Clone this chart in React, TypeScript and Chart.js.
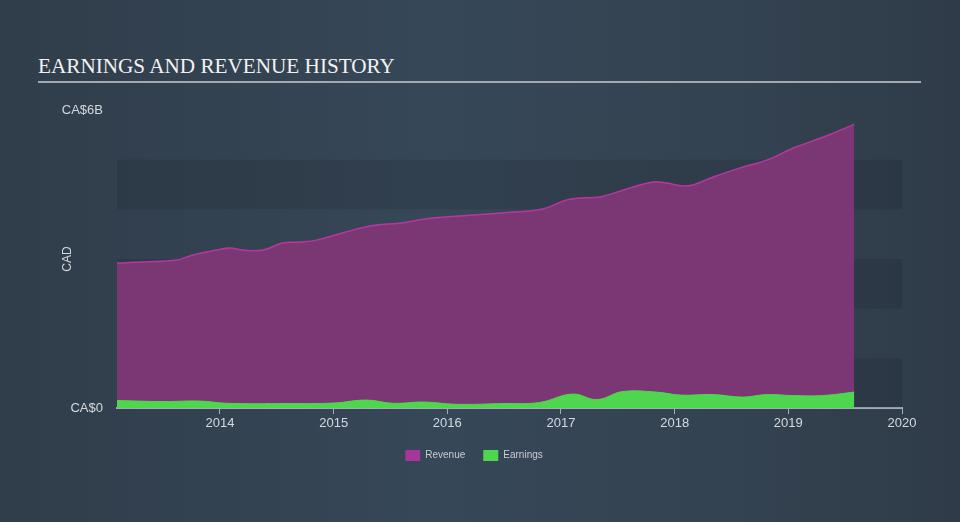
import React, { useEffect, useRef } from "react";
import { Chart, registerables } from "chart.js";

Chart.register(...registerables);

const revenueYears = [2013.094, 2013.32, 2013.62, 2013.76, 2013.97, 2014.09, 2014.2, 2014.38, 2014.55, 2014.7, 2014.85, 2015.1, 2015.36, 2015.58, 2015.85, 2016.2, 2016.55, 2016.83, 2017.05, 2017.17, 2017.34, 2017.58, 2017.81, 2017.93, 2018.07, 2018.16, 2018.34, 2018.57, 2018.81, 2019.04, 2019.28, 2019.39, 2019.58];
const revenueValues = [2.92, 2.94, 2.98, 3.08, 3.18, 3.22, 3.18, 3.18, 3.32, 3.34, 3.38, 3.54, 3.68, 3.72, 3.82, 3.88, 3.94, 4.0, 4.19, 4.23, 4.25, 4.41, 4.55, 4.53, 4.47, 4.49, 4.65, 4.83, 4.99, 5.23, 5.43, 5.53, 5.71];

const earningsYears = [2013.094, 2013.5, 2013.82, 2014.06, 2014.6, 2015.0, 2015.29, 2015.52, 2015.79, 2016.08, 2016.5, 2016.81, 2017.1, 2017.32, 2017.54, 2017.84, 2018.05, 2018.34, 2018.6, 2018.81, 2019.04, 2019.3, 2019.58];
const earningsValues = [0.15, 0.13, 0.14, 0.095, 0.09, 0.1, 0.16, 0.095, 0.12, 0.075, 0.09, 0.11, 0.28, 0.17, 0.33, 0.32, 0.26, 0.27, 0.22, 0.27, 0.25, 0.25, 0.32];

const xTickYears = [2014, 2015, 2016, 2017, 2018, 2019, 2020];
const yTickValues = [0, 6];
const bandRanges = [[0, 1], [2, 3], [4, 5]];

const seriesNames = ["Revenue", "Earnings"];
const TICK_FONT = "'Liberation Sans', Arial, sans-serif";

const bandsPlugin = {
  id: "bands",
  beforeDatasetsDraw(chart: any) {
    const { ctx, chartArea, scales } = chart;
    const y = scales.y;
    ctx.save();
    ctx.fillStyle = "rgba(0,0,0,0.09)";
    for (const [a, b] of bandRanges) {
      const top = y.getPixelForValue(b);
      const bot = y.getPixelForValue(a);
      ctx.fillRect(chartArea.left, top, chartArea.right - chartArea.left, bot - top);
    }
    ctx.restore();
  },
  afterDraw(chart: any) {
    const { ctx, chartArea } = chart;
    ctx.save();
    ctx.translate(68, (chartArea.top + chartArea.bottom) / 2);
    ctx.rotate(-Math.PI / 2);
    ctx.fillStyle = "#d4d9de";
    ctx.font = `12px ${TICK_FONT}`;
    ctx.textAlign = "center";
    ctx.textBaseline = "middle";
    ctx.fillText("CAD", 0, 0);
    ctx.restore();
  },
};

export default function App() {
  const ref = useRef<HTMLCanvasElement>(null);

  useEffect(() => {
    if (!ref.current) return;
    const chart = new Chart(ref.current, {
      type: "line",
      data: {
        datasets: [
          {
            label: seriesNames[0],
            data: revenueYears.map((x, i) => ({ x, y: revenueValues[i] })),
            borderColor: "#b8379f",
            backgroundColor: "#7a3773",
            borderWidth: 1.5,
            fill: "origin",
            pointRadius: 0,
            tension: 0.4,
            order: 2,
          },
          {
            label: seriesNames[1],
            data: earningsYears.map((x, i) => ({ x, y: earningsValues[i] })),
            borderColor: "#4fd64f",
            backgroundColor: "#4fd64f",
            borderWidth: 1,
            fill: "origin",
            pointRadius: 0,
            tension: 0.4,
            order: 1,
          },
        ],
      },
      options: {
        animation: false,
        responsive: false,
        maintainAspectRatio: false,
        layout: { padding: { left: 46, right: 58, top: 110, bottom: 51 } },
        plugins: {
          title: { display: false },
          tooltip: { enabled: false },
          legend: {
            position: "bottom",
            labels: {
              boxWidth: 15,
              boxHeight: 11,
              padding: 18,
              color: "#c8cdd3",
              font: { size: 10, family: TICK_FONT },
              generateLabels: () => [
                { text: seriesNames[0], fillStyle: "#a8359a", strokeStyle: "#a8359a", lineWidth: 0, fontColor: "#c8cdd3", datasetIndex: 0 },
                { text: seriesNames[1], fillStyle: "#4fd64f", strokeStyle: "#4fd64f", lineWidth: 0, fontColor: "#c8cdd3", datasetIndex: 1 },
              ],
            },
          },
        },
        scales: {
          x: {
            type: "linear",
            min: 2013.094,
            max: 2020,
            afterBuildTicks: (axis: any) => {
              axis.ticks = xTickYears.map((v) => ({ value: v }));
            },
            afterFit: (scale: any) => {
              scale.height = 24;
            },
            grid: {
              display: true,
              drawOnChartArea: false,
              drawTicks: true,
              tickLength: 6,
              color: "#a3acb8",
              lineWidth: 1,
            },
            border: { display: true, color: "#a3acb8", width: 2 },
            ticks: {
              color: "#d4d9de",
              font: { size: 13, family: TICK_FONT },
              padding: 2,
              maxRotation: 0,
              autoSkip: false,
              callback: (v: any) => String(v),
            },
          },
          y: {
            min: 0,
            max: 6,
            afterBuildTicks: (axis: any) => {
              axis.ticks = yTickValues.map((v) => ({ value: v }));
            },
            afterFit: (scale: any) => {
              scale.width = 71;
            },
            grid: { display: false, drawTicks: false },
            border: { display: false },
            ticks: {
              color: "#d4d9de",
              font: { size: 13, family: TICK_FONT },
              padding: 14,
              callback: (v: any) => (v === 0 ? "CA$0" : `CA$${v}B`),
            },
          },
        },
      },
      plugins: [bandsPlugin],
    });
    return () => chart.destroy();
  }, []);

  return (
    <div
      style={{
        position: "absolute",
        left: 0,
        top: 0,
        width: 960,
        height: 522,
        overflow: "hidden",
        background: "linear-gradient(90deg, #303d4b 0%, #364757 45%, #344352 75%, #2f3b48 100%)",
      }}
    >
      <div
        style={{
          position: "absolute",
          left: 38,
          top: 55.7,
          fontFamily: "'Liberation Serif', 'Times New Roman', serif",
          fontSize: 21.2,
          lineHeight: "21px",
          color: "#f2f2f2",
          whiteSpace: "nowrap",
        }}
      >
        EARNINGS AND REVENUE HISTORY
      </div>
      <div
        style={{
          position: "absolute",
          left: 38,
          top: 81,
          width: 883,
          height: 2,
          background: "#a3a9b1",
        }}
      />
      <canvas ref={ref} width={960} height={522} style={{ position: "absolute", left: 0, top: 0 }} />
    </div>
  );
}
